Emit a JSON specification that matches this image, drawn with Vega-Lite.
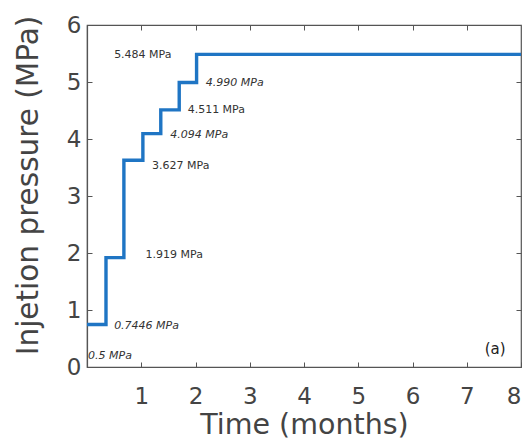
{
  "$schema": "https://vega.github.io/schema/vega-lite/v6.json",
  "autosize": "none",
  "width": 434,
  "height": 342,
  "padding": {"left": 87, "top": 25, "right": 7, "bottom": 75},
  "background": "white",
  "config": {
    "view": {"stroke": "#555", "strokeWidth": 1.2},
    "font": "DejaVu Sans",
    "axis": {
      "grid": false,
      "domainColor": "#555",
      "domainWidth": 1.2,
      "tickColor": "#555",
      "tickSize": -5,
      "labelFont": "DejaVu Sans",
      "labelFontSize": 23,
      "labelColor": "#444",
      "titleFont": "DejaVu Sans",
      "titleFontSize": 28.5,
      "titleFontWeight": "normal",
      "titleColor": "#444"
    }
  },
  "datasets": {
    "pressure": [
      {"time": 0, "p": 0.7446},
      {"time": 0.35, "p": 1.919},
      {"time": 0.68, "p": 3.627},
      {"time": 1.03, "p": 4.094},
      {"time": 1.36, "p": 4.511},
      {"time": 1.70, "p": 4.990},
      {"time": 2.02, "p": 5.484},
      {"time": 8, "p": 5.484}
    ],
    "upright": [
      {"time": 0.50, "p": 5.48, "label": "5.484 MPa"},
      {"time": 1.855, "p": 4.51, "label": "4.511 MPa"},
      {"time": 1.2, "p": 3.53, "label": "3.627 MPa"},
      {"time": 1.08, "p": 1.96, "label": "1.919 MPa"}
    ],
    "italic": [
      {"time": 2.19, "p": 4.99, "label": "4.990 MPa"},
      {"time": 1.535, "p": 4.07, "label": "4.094 MPa"},
      {"time": 0.50, "p": 0.715, "label": "0.7446 MPa"},
      {"time": 0.02, "p": 0.19, "label": "0.5 MPa"}
    ],
    "panel": [
      {"time": 7.33, "p": 0.32, "label": "(a)"}
    ]
  },
  "layer": [
    {
      "data": {"name": "pressure"},
      "mark": {"type": "line", "interpolate": "step-after", "color": "#1f75c4", "strokeWidth": 3.4, "clip": true},
      "encoding": {
        "x": {
          "field": "time", "type": "quantitative",
          "scale": {"domain": [0, 8], "nice": false},
          "axis": {"values": [0,1,2,3,4,5,6,7,8], "format": "d", "labelExpr": "datum.value == 0 ? '' : datum.label", "labelPadding": 23, "title": "Time (months)", "titlePadding": 2}
        },
        "y": {
          "field": "p", "type": "quantitative",
          "scale": {"domain": [0, 6], "nice": false},
          "axis": {"values": [0,1,2,3,4,5,6], "format": "d", "labelPadding": 11, "title": "Injetion pressure (MPa)", "titlePadding": 23, "titleFontSize": 29.5, "titleY": 160}
        }
      }
    },
    {
      "data": {"name": "upright"},
      "mark": {"type": "text", "align": "left", "baseline": "middle", "fontSize": 11, "color": "#333"},
      "encoding": {
        "x": {"field": "time", "type": "quantitative", "axis": {"orient": "top", "labels": false, "title": null, "domain": false, "values": [1,2,3,4,5,6,7]}},
        "y": {"field": "p", "type": "quantitative", "axis": {"orient": "right", "labels": false, "title": null, "domain": false, "values": [1,2,3,4,5]}},
        "text": {"field": "label"}
      }
    },
    {
      "data": {"name": "italic"},
      "mark": {"type": "text", "align": "left", "baseline": "middle", "fontSize": 11, "fontStyle": "italic", "color": "#333"},
      "encoding": {
        "x": {"field": "time", "type": "quantitative", "axis": null},
        "y": {"field": "p", "type": "quantitative", "axis": null},
        "text": {"field": "label"}
      }
    },
    {
      "data": {"name": "panel"},
      "mark": {"type": "text", "align": "left", "baseline": "middle", "fontSize": 15, "color": "#222"},
      "encoding": {
        "x": {"field": "time", "type": "quantitative", "axis": null},
        "y": {"field": "p", "type": "quantitative", "axis": null},
        "text": {"field": "label"}
      }
    }
  ],
  "resolve": {"axis": {"x": "independent", "y": "independent"}}
}
